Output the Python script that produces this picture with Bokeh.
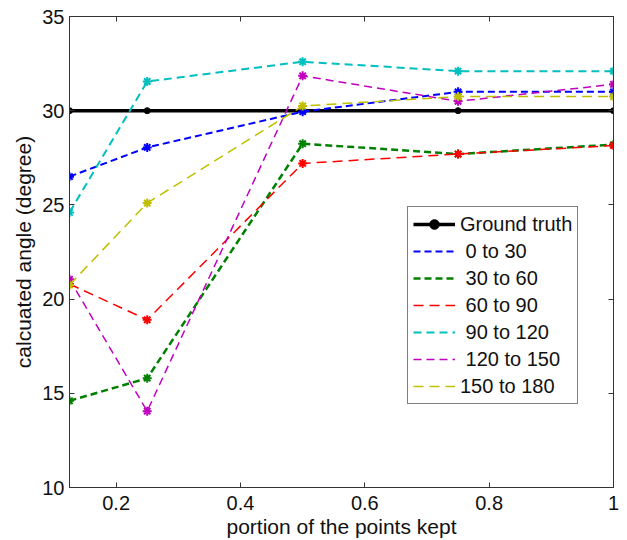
from bokeh.plotting import figure
from bokeh.models import (Range1d, FixedTicker, NumeralTickFormatter, LinearAxis,
                          Legend, LegendItem, ColumnDataSource)
from bokeh.embed import file_html
from bokeh.resources import INLINE

# ---- data ----
portion = [0.125, 0.25, 0.5, 0.75, 1.0]
ground_truth = [30, 30, 30, 30, 30]
s_0_30 = [26.5, 28.05, 29.95, 31.0, 31.0]
s_30_60 = [14.6, 15.8, 28.25, 27.7, 28.2]
s_60_90 = [20.8, 18.9, 27.2, 27.7, 28.15]
s_90_120 = [24.6, 31.55, 32.6, 32.1, 32.1]
s_120_150 = [21.05, 14.05, 31.85, 30.5, 31.4]
s_150_180 = [20.75, 25.1, 30.25, 30.75, 30.75]

series_names = [" 0 to 30", " 30 to 60", " 60 to 90", " 90 to 120", " 120 to 150", "150 to 180"]
series_vals = [s_0_30, s_30_60, s_60_90, s_90_120, s_120_150, s_150_180]
series_colors = ["#0000FF", "#008000", "#FF0000", "#00BFBF", "#BF00BF", "#BFBF00"]
series_widths = [2, 2.5, 1.5, 2, 1.5, 1.5]
series_dash = ["7 4", "7 4", "10 6", "8 5", "8 5", "10 6"]

x_ticks = [0.2, 0.4, 0.6, 0.8, 1.0]
y_ticks = [10, 15, 20, 25, 30, 35]

FONT = "Liberation Sans"
AX = "#333333"

p = figure(width=620, height=540, output_backend="svg", toolbar_location=None,
           x_range=Range1d(0.125, 1.0), y_range=Range1d(10, 35),
           min_border_left=69, min_border_right=7, min_border_top=16, min_border_bottom=53)
p.grid.visible = False
p.background_fill_color = "white"
p.border_fill_color = "white"
p.outline_line_color = AX
p.outline_line_width = 1

def style_axis(ax, labels=True):
    ax.axis_line_color = AX
    ax.major_tick_line_color = AX
    ax.major_tick_in = 5
    ax.major_tick_out = 0
    ax.minor_tick_line_color = None
    ax.major_label_text_font = FONT
    if labels:
        ax.major_label_text_font_size = "20px"
        ax.major_label_text_color = "#111111"
    else:
        ax.major_label_text_font_size = "1px"
        ax.major_label_text_color = None
        ax.major_label_standoff = 0

p.xaxis.ticker = FixedTicker(ticks=x_ticks)
p.yaxis.ticker = FixedTicker(ticks=y_ticks)
p.xaxis.formatter = NumeralTickFormatter(format="0.[0]")
p.yaxis.formatter = NumeralTickFormatter(format="0")
style_axis(p.xaxis[0])
style_axis(p.yaxis[0])
p.xaxis.major_label_standoff = 8
p.yaxis.major_label_standoff = 5
p.xaxis.axis_label = "portion of the points kept"
p.yaxis.axis_label = "calcuated angle (degree)"
for ax in (p.xaxis[0], p.yaxis[0]):
    ax.axis_label_text_font = FONT
    ax.axis_label_text_font_size = "21px"
    ax.axis_label_text_font_style = "normal"
    ax.axis_label_text_color = "#111111"
p.xaxis.axis_label_standoff = 2
p.yaxis.axis_label_standoff = 4

top_ax = LinearAxis(ticker=FixedTicker(ticks=x_ticks))
style_axis(top_ax, labels=False)
p.add_layout(top_ax, "above")
right_ax = LinearAxis(ticker=FixedTicker(ticks=y_ticks))
style_axis(right_ax, labels=False)
p.add_layout(right_ax, "right")

items = []
gsrc = ColumnDataSource(dict(x=portion, y=ground_truth))
gl = p.line("x", "y", source=gsrc, line_color="black", line_width=3.5)
gm = p.scatter("x", "y", source=gsrc, marker="circle", size=6, fill_color="black", line_color="black")
items.append(LegendItem(label="Ground truth", renderers=[gl, gm]))

for name, vals, col, w, d in zip(series_names, series_vals, series_colors, series_widths, series_dash):
    src = ColumnDataSource(dict(x=portion, y=vals))
    r = p.line("x", "y", source=src, line_color=col, line_width=w, line_dash=d)
    p.scatter("x", "y", source=src, marker="asterisk", size=9, line_color=col, line_width=2)
    items.append(LegendItem(label=name, renderers=[r]))

legend = Legend(items=items, location=(338, 83))
legend.border_line_color = "black"
legend.border_line_width = 1
legend.background_fill_color = "white"
legend.background_fill_alpha = 1
legend.label_text_font = FONT
legend.label_text_font_size = "20px"
legend.label_text_color = "#111111"
legend.glyph_width = 42
legend.glyph_height = 24
legend.label_height = 24
legend.label_standoff = 5
legend.spacing = 3
legend.padding = 5
legend.margin = 0
p.add_layout(legend)

open("out.html", "w").write(file_html(p, INLINE))
